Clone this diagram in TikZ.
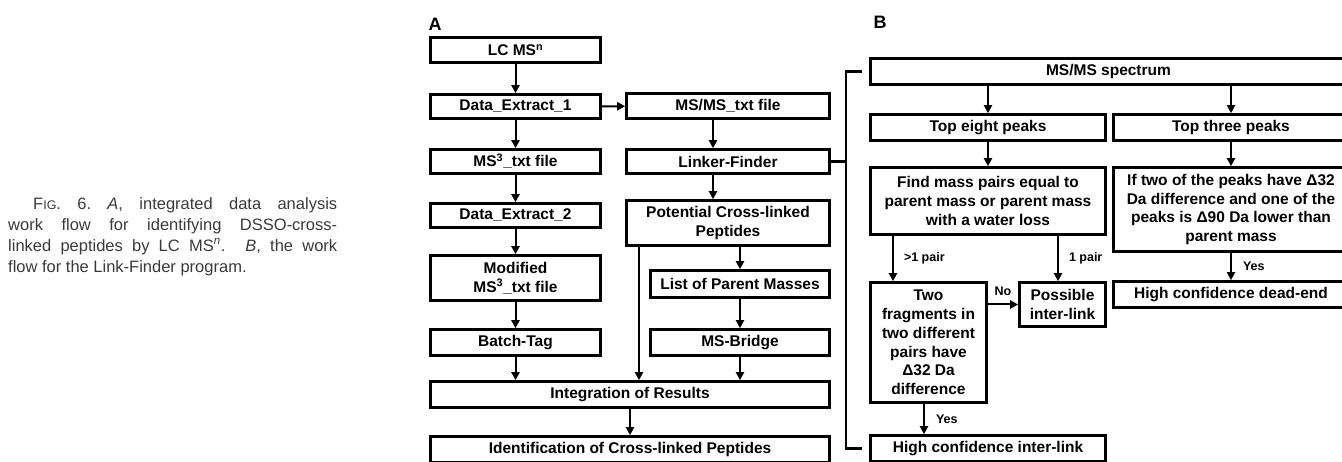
\documentclass[tikz,border=0pt]{standalone}
\usepackage{fontspec}
\setmainfont{Liberation Sans}
\usetikzlibrary{arrows.meta}
\definecolor{capgray}{HTML}{3A3A3A}
\begin{document}
\begin{tikzpicture}[x=1pt,y=-1pt,
    box/.style={draw, line width=2.6pt, align=center, inner sep=0pt,
        font=\fontsize{15.5}{18.8}\selectfont\bfseries},
    flow/.style={line width=2pt, -{Triangle[length=8pt,width=8pt]}},
    wire/.style={line width=2.6pt},
    lbl/.style={inner sep=0pt, font=\fontsize{12.5}{14}\selectfont\bfseries},
    panel/.style={inner sep=0pt, font=\fontsize{18}{20}\selectfont\bfseries},
    figcap/.style={inner sep=0pt, text width=329pt, align=justify, text=capgray,
        font=\fontsize{16.5}{21}\selectfont}]
    \useasboundingbox (0,0) rectangle (1342,462);
    \clip (0,0) rectangle (1342,462);

    \node[figcap, anchor=north west] (caption) at (8,197)
        {\hspace*{25pt}F{\fontsize{12.5}{21}\selectfont IG}. 6.\ \textit{A}, integrated data analysis\linebreak
        work flow for identifying DSSO-cross-\linebreak
        linked peptides by LC MS\textsuperscript{\textit{n}}. \textit{B}, the work\linebreak
        flow for the Link-Finder program.};

    \node[panel] (labA) at (435,24) {A};
    \node[panel] (labB) at (880,22) {B};

    \node[box, minimum width=170pt, minimum height=25pt] (lcms) at (515.5,50) {LC MS\textsuperscript{n}};
    \node[box, minimum width=170pt, minimum height=24pt] (de1) at (515.5,106.5) {Data\_Extract\_1};
    \node[box, minimum width=170pt, minimum height=24pt] (ms3) at (515.5,161.5) {MS\textsuperscript{3}\_txt file};
    \node[box, minimum width=170pt, minimum height=24pt] (de2) at (515.5,215.5) {Data\_Extract\_2};
    \node[box, minimum width=170pt, minimum height=45pt] (mod) at (515.5,278) {Modified\\MS\textsuperscript{3}\_txt file};
    \node[box, minimum width=170pt, minimum height=26pt] (batch) at (515.5,342.5) {Batch-Tag};
    \node[box, minimum width=203pt, minimum height=25pt] (msms) at (728,106) {MS/MS\_txt file};
    \node[box, minimum width=203pt, minimum height=24pt] (linker) at (728,161.5) {Linker-Finder};
    \node[box, minimum width=203pt, minimum height=45pt] (potential) at (728,223) {Potential Cross-linked\\Peptides};
    \node[box, minimum width=179pt, minimum height=27pt] (parent) at (740,284) {List of Parent Masses};
    \node[box, minimum width=179pt, minimum height=26pt] (bridge) at (740,342.5) {MS-Bridge};
    \node[box, minimum width=399pt, minimum height=26pt] (integ) at (630,394.5) {Integration of Results};
    \node[box, minimum width=399pt, minimum height=26pt] (ident) at (630,449.5) {Identification of Cross-linked Peptides};

    \node[box, minimum width=476pt, minimum height=26pt] (spec) at (1108.5,71.5) {MS/MS spectrum};
    \node[box, minimum width=235pt, minimum height=26pt] (top8) at (988,127.5) {Top eight peaks};
    \node[box, minimum width=235pt, minimum height=26pt] (top3) at (1231,127.5) {Top three peaks};
    \node[box, minimum width=235pt, minimum height=67pt] (find) at (988,201)
        {Find mass pairs equal to\\parent mass or parent mass\\with a water loss};
    \node[box, minimum width=235pt, minimum height=84pt] (iftwo) at (1231,209.5)
        {If two of the peaks have Δ32\\Da difference and one of the\\peaks is Δ90 Da lower than\\parent mass};
    \node[box, minimum width=116pt, minimum height=120pt] (two) at (928.5,342.5)
        {Two\\fragments in\\two different\\pairs have\\Δ32 Da\\difference};
    \node[box, minimum width=86pt, minimum height=44pt] (poss) at (1062.5,304.5) {Possible\\inter-link};
    \node[box, minimum width=235pt, minimum height=26pt] (dead) at (1231,294.5) {High confidence dead-end};
    \node[box, minimum width=235pt, minimum height=26pt] (hcil) at (988,448.5) {High confidence inter-link};

    \coordinate (mcol) at (713,0);
    \coordinate (pcol) at (639,0);
    \coordinate (bx) at (846,0);
    \coordinate (gl) at (893,0);
    \coordinate (gr) at (1058,0);
    \coordinate (gy) at (924,0);

    \draw[flow] (lcms) -- (de1);
    \draw[flow] (de1) -- (ms3);
    \draw[flow] (ms3) -- (de2);
    \draw[flow] (de2) -- (mod);
    \draw[flow] (mod) -- (batch);
    \draw[flow] (batch.south) -- (batch.south |- integ.north);
    \draw[flow] (de1) -- (msms);
    \draw[flow] (msms.south -| mcol) -- (linker.north -| mcol);
    \draw[flow] (linker.south -| mcol) -- (potential.north -| mcol);
    \draw[flow] (potential.south -| pcol) -- (integ.north -| pcol);
    \draw[flow] (potential.south -| parent.north) -- (parent.north);
    \draw[flow] (parent) -- (bridge);
    \draw[flow] (bridge.south) -- (bridge.south |- integ.north);
    \draw[flow] (integ) -- (ident);

    \draw[wire] (linker.east) -- (linker.east -| bx);
    \draw[wire] ([xshift=-7pt]spec.west) -- (spec.west -| bx) -- (hcil.west -| bx) -- ([xshift=-7pt]hcil.west);

    \draw[flow] (spec.south -| top8) -- (top8);
    \draw[flow] (spec.south -| top3) -- (top3);
    \draw[flow] (top8) -- (find);
    \draw[flow] (top3) -- (iftwo);
    \draw[flow] (find.south -| gl) -- (two.north -| gl) node[lbl, midway, right=10pt] {>1 pair};
    \draw[flow] (find.south -| gr) -- (poss.north -| gr) node[lbl, midway, right=10pt] {1 pair};
    \draw[flow] (iftwo) -- (dead) node[lbl, midway, right=11pt] {Yes};
    \draw[flow] (two.east |- poss) -- (poss) node[lbl, midway, above=8pt] {No};
    \draw[flow] (two.south -| gy) -- (hcil.north -| gy) node[lbl, midway, right=11pt] {Yes};
\end{tikzpicture}
\end{document}
